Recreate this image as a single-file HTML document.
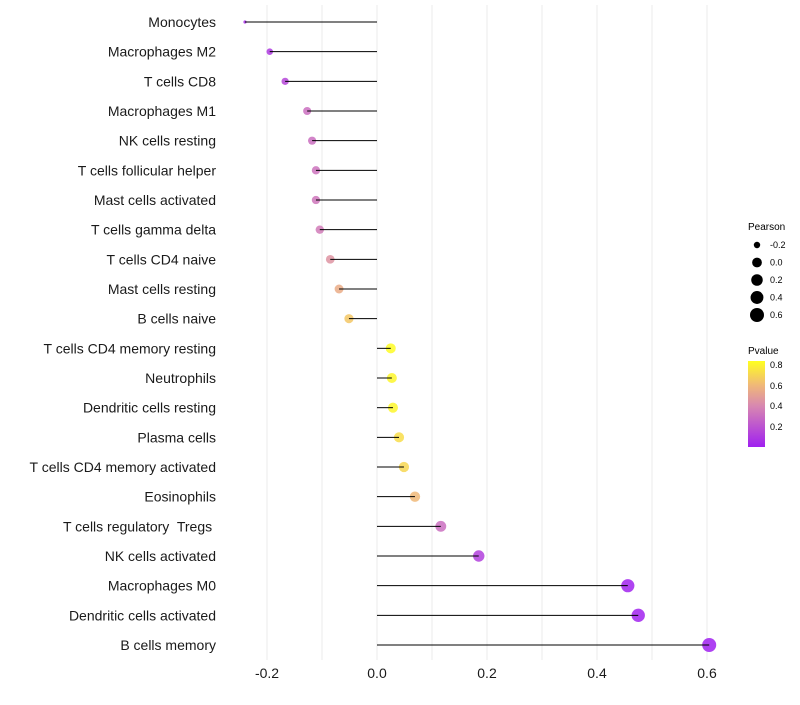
<!DOCTYPE html>
<html><head><meta charset="utf-8"><style>
body{margin:0;background:#fff;font-family:"Liberation Sans",sans-serif}
text{white-space:pre}
</style></head><body>
<svg id="chart" width="800" height="700" xmlns="http://www.w3.org/2000/svg">
<defs><linearGradient id="pg" x1="0" y1="1" x2="0" y2="0">
<stop offset="0" stop-color="#a020f0"/><stop offset="0.48" stop-color="#d888b0"/><stop offset="0.72" stop-color="#f0b878"/><stop offset="1" stop-color="#ffff20"/></linearGradient></defs>
<g id="grid"></g><g id="marks"></g><g id="labels"></g><g id="ticks"></g>
<g font-size="10" fill="#000">
<text x="748" y="230">Pearson</text>
</g>
<g id="sizeleg"></g>
<g font-size="10">
<text x="748" y="354">Pvalue</text>
<rect x="748" y="361" width="17" height="86" fill="url(#pg)"/>
<text x="770" y="368" font-size="9">0.8</text>
<text x="770" y="389" font-size="9">0.6</text>
<text x="770" y="409" font-size="9">0.4</text>
<text x="770" y="430" font-size="9">0.2</text>
</g>
</svg>
<script>
const categories=["Monocytes","Macrophages M2","T cells CD8","Macrophages M1","NK cells resting","T cells follicular helper","Mast cells activated","T cells gamma delta","T cells CD4 naive","Mast cells resting","B cells naive","T cells CD4 memory resting","Neutrophils","Dendritic cells resting","Plasma cells","T cells CD4 memory activated","Eosinophils","T cells regulatory  Tregs ","NK cells activated","Macrophages M0","Dendritic cells activated","B cells memory"];
const pearson=[-0.24,-0.195,-0.167,-0.127,-0.118,-0.111,-0.111,-0.104,-0.085,-0.069,-0.051,0.025,0.027,0.029,0.04,0.049,0.069,0.116,0.185,0.456,0.475,0.604];
const pvalue=[0.05,0.1,0.15,0.3,0.3,0.32,0.33,0.35,0.45,0.55,0.65,0.82,0.8,0.8,0.72,0.7,0.6,0.3,0.12,0.01,0.01,0.0];
const xTicks=[-0.2,0,0.2,0.4,0.6];
const xTickLabels=["-0.2","0.0","0.2","0.4","0.6"];
const sizeLegendValues=[-0.2,0,0.2,0.4,0.6];
const NS="http://www.w3.org/2000/svg";
const X=v=>377+v*550;
const Y=i=>22+i*29.667;
const R=v=>1.6+5.4*Math.pow(Math.max(0,(v+0.24)/0.84),0.4);
function col(p){const st=[[0,[160,32,240]],[0.4,[216,136,176]],[0.6,[240,184,120]],[0.83,[255,255,32]]];
p=Math.max(0,Math.min(0.83,p));for(let k=1;k<st.length;k++){if(p<=st[k][0]){const a=st[k-1],b=st[k],t=(p-a[0])/(b[0]-a[0]);return "rgb("+a[1].map((c,j)=>Math.round(c+(b[1][j]-c)*t)).join(",")+")";}}return "rgb(255,255,32)";}
function mk(t,a,parent){const e=document.createElementNS(NS,t);for(const k in a)e.setAttribute(k,a[k]);document.getElementById(parent).appendChild(e);return e;}
for(let v=-0.2;v<=0.61;v+=0.1){const g=mk("line",{x1:X(v),x2:X(v),y1:5,y2:660,stroke:"#ebebeb","stroke-width":1},"grid");

}
categories.forEach((c,i)=>{
const pt=mk("circle",{cx:X(pearson[i]),cy:Y(i),r:R(pearson[i]),fill:col(pvalue[i]),"fill-opacity":0.85},"marks");


const ln=mk("line",{x1:X(0),x2:X(pearson[i]),y1:Y(i),y2:Y(i),stroke:"#000","stroke-width":1},"marks");


const tx=mk("text",{x:216,y:Y(i)+5,"text-anchor":"end","font-size":14,fill:"#1a1a1a"},"labels");
tx.textContent=c;

});
xTicks.forEach((v,i)=>{const t=mk("text",{x:X(v),y:678,"text-anchor":"middle","font-size":14,fill:"#1a1a1a"},"ticks");
t.textContent=xTickLabels[i];

});
sizeLegendValues.forEach((v,i)=>{const y=245+i*17.5;
const c=mk("circle",{cx:757,cy:y,r:R(v),fill:"#000"},"sizeleg");


const t=mk("text",{x:770,y:y+3,"font-size":9},"sizeleg");
t.textContent=v.toFixed(1);

});
</script>
</body></html>
